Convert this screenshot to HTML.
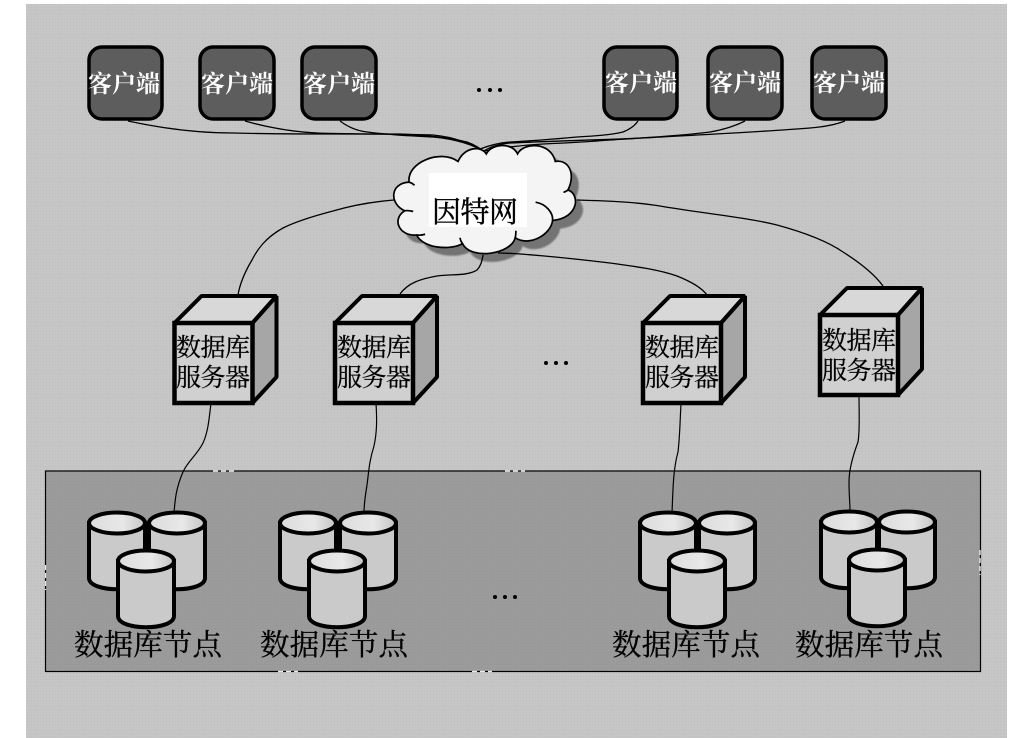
<!DOCTYPE html>
<html><head><meta charset="utf-8"><style>
html,body{margin:0;padding:0;background:#fff;width:1020px;height:738px;overflow:hidden}
svg{display:block}
text{font-family:"Liberation Serif","Noto Serif CJK SC",serif}
</style></head><body>
<svg width="1020" height="738" viewBox="0 0 1020 738" xmlns="http://www.w3.org/2000/svg">
<defs>
<pattern id="dots" width="3" height="3" patternUnits="userSpaceOnUse"><rect width="3" height="3" fill="#c6c6c6"/><rect x="1" y="1" width="1" height="1" fill="#bdbdbd"/></pattern>
<pattern id="dots2" width="3" height="3" patternUnits="userSpaceOnUse"><rect width="3" height="3" fill="#9b9b9b"/><rect x="1" y="1" width="1" height="1" fill="#969696"/></pattern>
<filter id="blur" x="-20%" y="-20%" width="140%" height="140%"><feGaussianBlur stdDeviation="2.5"/></filter>
<linearGradient id="ct" x1="0" y1="0" x2="1" y2="0"><stop offset="0" stop-color="#dcdcdc"/><stop offset=".6" stop-color="#e8e8e8"/><stop offset="1" stop-color="#c4c4c4"/></linearGradient>
<g id="cyl">
<path d="M-28,0 V55 C-28,70 28,70 28,55 V0 Z" fill="#cacaca" stroke="#000" stroke-width="4"/>
<ellipse cx="0" cy="0" rx="28" ry="10.500" fill="url(#ct)" stroke="#000" stroke-width="4"/>
</g>
<g id="cube" stroke-linejoin="bevel">
<path d="M0,0 L27,-27 H102 L78,0 Z" fill="#d8d8d8" stroke="#000" stroke-width="4"/>
<path d="M78,0 L102,-27 V54 L78,80 Z" fill="#a6a6a6" stroke="#000" stroke-width="4"/>
<rect x="0" y="0" width="78" height="80" fill="#d0d0d0" stroke="#000" stroke-width="4.500" stroke-linejoin="miter"/>
</g>
</defs>

<rect x="26" y="4" width="981" height="734" fill="url(#dots)"/>

<!-- client boxes -->
<g fill="#5d5d5d" stroke="#000" stroke-width="3.5">
<rect x="89" y="47" width="73" height="72" rx="13"/>
<rect x="200" y="47" width="74" height="72" rx="13"/>
<rect x="302" y="47" width="74" height="72" rx="13"/>
<rect x="604" y="47" width="73" height="72" rx="13"/>
<rect x="708" y="47" width="74" height="72" rx="13"/>
<rect x="812" y="47" width="74" height="72" rx="13"/>
</g>
<g font-size="24" font-weight="bold" fill="#fff">
<text x="88" y="92" textLength="72">客户端</text>
<text x="201" y="92" textLength="72">客户端</text>
<text x="303" y="92" textLength="72">客户端</text>
<text x="605" y="91" textLength="72">客户端</text>
<text x="709" y="91" textLength="72">客户端</text>
<text x="813" y="91" textLength="72">客户端</text>
</g>

<!-- client connectors -->
<g fill="none" stroke="#000" stroke-width="1.3">
<path d="M128,121 C165,129 200,133 233,133 C270,134 300,134 333,134 C370,134 410,134 433,135 C455,137 475,145 484,152"/>
<path d="M245,121 C270,128 295,132 317,133 C345,134 375,134 400,134 C425,135 450,138 467,142 C475,145 480,148 484,152"/>
<path d="M340,121 C348,127 358,131 367,132 C390,135 415,136 433,137 C455,139 475,145 484,152"/>
<path d="M638,121 C634,127 628,130 623,132 C610,135 595,136 577,137 C555,139 530,141 510,142 C498,143 488,146 480,149"/>
<path d="M745,121 C735,126 722,130 710,132 C680,136 640,138 610,140 C585,142 565,143 543,144 C525,145 505,147 484,151"/>
<path d="M845,121 C835,125 822,127 810,128 C760,132 695,135 643,138 C600,140 550,141 510,143 C500,144 490,147 484,151"/>
</g>

<!-- cloud -->
<g transform="translate(369,128) scale(.34,.345)">
<path transform="translate(22,24)" d="M345,75 C360,45 420,40 437,75 C455,40 535,40 548,97 C585,90 610,130 585,180 C620,190 620,260 540,268 C535,310 470,345 430,318 C420,365 300,385 275,335 C240,355 160,350 140,310 C90,315 65,265 105,240 C60,220 60,160 118,157 C110,100 210,60 262,97 C280,55 330,50 345,75 Z" fill="#666" filter="url(#blur)" opacity=".85"/>
<path d="M345,75 C360,45 420,40 437,75 C455,40 535,40 548,97 C585,90 610,130 585,180 C620,190 620,260 540,268 C535,310 470,345 430,318 C420,365 300,385 275,335 C240,355 160,350 140,310 C90,315 65,265 105,240 C60,220 60,160 118,157 C110,100 210,60 262,97 C280,55 330,50 345,75 Z" fill="#f4f4f4" stroke="#000" stroke-width="5"/>
<g fill="none" stroke="#000" stroke-width="5">
<path d="M105,240 C115,238 122,240 130,242"/>
<path d="M118,157 C122,158 128,160 134,166"/>
<path d="M490,215 C520,220 542,245 540,268"/>
<path d="M585,180 C580,183 576,186 572,186"/>
<path d="M430,318 C432,312 432,305 432,298"/>
<path d="M275,335 C270,328 268,322 268,318"/>
<path d="M140,310 C150,312 158,310 165,308"/>
</g>
</g>
<rect x="429" y="173" width="98" height="54" fill="#fff"/>
<text x="432" y="222" font-size="29" textLength="86" fill="#000" stroke="#000" stroke-width=".4">因特网</text>

<!-- cloud connectors -->
<g fill="none" stroke="#000" stroke-width="1.3">
<path d="M394,200 C370,202 350,206 333,211 C310,217 295,222 283,228 C265,238 257,250 252,260 C246,270 240,283 238,295"/>
<path d="M483,255 C482,263 480,267 477,270 C468,276 452,274 437,276 C420,279 408,283 400,294"/>
<path d="M498,253 C515,253 560,257 610,263 C640,267 660,270 677,276 C692,282 702,288 707,295"/>
<path d="M577,200 C610,201 635,202 660,206 C700,213 745,217 777,225 C810,234 830,243 843,252 C862,264 875,275 883,286"/>
</g>

<!-- panel -->
<rect x="45.500" y="471" width="935" height="200.500" fill="url(#dots2)" stroke="#000" stroke-width="1.2"/>
<g fill="none" stroke="#e8e8e8" stroke-width="1.4" stroke-dasharray="5 3">
<path d="M213,471 H237"/><path d="M505,471 H525"/><path d="M278,671.500 H298"/><path d="M472,671.500 H492"/><path d="M45.500,565 V590"/><path d="M980,550 V575"/>
</g>

<!-- db connectors -->
<g fill="none" stroke="#000" stroke-width="1.2">
<path d="M211,403 C209,420 208,432 203,443 C197,455 187,462 183,472 C176,488 175,500 174,513"/>
<path d="M376,403 C377,420 377,432 374,446 C369,462 369,470 367,485 C365,497 364,505 364,513"/>
<path d="M681,404 C680,420 680,435 678,452 C673,470 673,490 672,513"/>
<path d="M859,394 C859,415 860,430 858,442 C852,458 849,470 849,482 C849,495 850,503 850,511"/>
</g>

<!-- cubes -->
<use href="#cube" x="174.500" y="323"/>
<use href="#cube" x="335" y="323"/>
<use href="#cube" x="643" y="323"/>
<use href="#cube" x="820" y="315"/>
<g font-size="25" fill="#000" stroke="#000" stroke-width=".25">
<text x="176" y="356" textLength="74">数据库</text>
<text x="176" y="386" textLength="74">服务器</text>
<text x="337" y="356" textLength="74">数据库</text>
<text x="337" y="386" textLength="74">服务器</text>
<text x="645" y="356" textLength="74">数据库</text>
<text x="645" y="386" textLength="74">服务器</text>
<text x="822" y="349" textLength="74">数据库</text>
<text x="822" y="379" textLength="74">服务器</text>
</g>

<!-- cylinders -->
<use href="#cyl" x="117" y="523"/><use href="#cyl" x="177" y="523"/><use href="#cyl" x="146" y="561"/>
<use href="#cyl" x="308" y="523"/><use href="#cyl" x="368" y="523"/><use href="#cyl" x="337" y="561"/>
<use href="#cyl" x="668" y="523"/><use href="#cyl" x="727" y="523"/><use href="#cyl" x="697" y="561"/>
<use href="#cyl" x="849" y="522"/><use href="#cyl" x="907" y="522"/><use href="#cyl" x="877" y="560"/>

<g font-size="29.500" fill="#000" stroke="#000" stroke-width=".3">
<text x="74" y="655" textLength="148">数据库节点</text>
<text x="260" y="655" textLength="148">数据库节点</text>
<text x="612" y="655" textLength="148">数据库节点</text>
<text x="795" y="655" textLength="148">数据库节点</text>
</g>

<!-- ellipses -->
<g fill="#000">
<circle cx="479" cy="90" r="2"/><circle cx="490" cy="90" r="2"/><circle cx="500" cy="90" r="2"/>
<circle cx="546" cy="363" r="2"/><circle cx="556" cy="363" r="2"/><circle cx="566" cy="363" r="2"/>
<circle cx="495" cy="597" r="2"/><circle cx="505" cy="597" r="2"/><circle cx="515" cy="597" r="2"/>
</g>
</svg>
</body></html>
